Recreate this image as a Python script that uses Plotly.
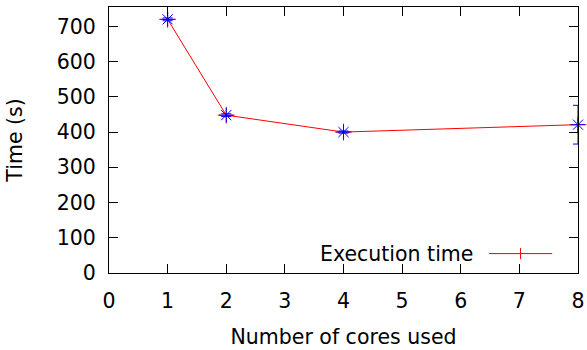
import plotly.graph_objects as go

cores = [1, 2, 4, 8]
times = [720, 448, 400, 421]
errors = [4, 4, 3, 55]
x_ticks = [0, 1, 2, 3, 4, 5, 6, 7, 8]
y_ticks = [0, 100, 200, 300, 400, 500, 600, 700]
series_name = "Execution time"

FONT = "DejaVu Sans"
FS = 20.5

fig = go.Figure()
# line with + markers (the legend series)
fig.add_trace(go.Scatter(
    x=cores, y=times, mode="lines+markers", name=series_name,
    line=dict(color="#ff0000", width=1),
    marker=dict(symbol="cross-thin-open", size=12, color="#ff0000", line=dict(color="#ff0000", width=1)),
    cliponaxis=False, showlegend=False,
))
# error bars with asterisk markers
fig.add_trace(go.Scatter(
    x=cores, y=times, mode="markers",
    marker=dict(symbol="asterisk-open", size=12, color="#0000ff", line=dict(color="#0000ff", width=1)),
    error_y=dict(type="data", array=errors, visible=True, color="#0000ff", thickness=1, width=5),
    cliponaxis=False, showlegend=False,
))

axis_common = dict(
    showline=True, mirror="allticks", linecolor="black", linewidth=1,
    ticks="inside", ticklen=9, tickwidth=1, tickcolor="black",
    showgrid=False, zeroline=False, automargin=False,
    tickfont=dict(family=FONT, size=FS, color="black"),
)
fig.update_xaxes(range=[0, 8], tickvals=x_ticks, ticktext=[str(v) for v in x_ticks],
                 title=dict(text="Number of cores used", font=dict(family=FONT, size=FS, color="black"), standoff=18),
                 ticklabelstandoff=9, **axis_common)
fig.update_yaxes(range=[0, 755], tickvals=y_ticks, ticktext=[str(v) for v in y_ticks],
                 title=dict(text="Time (s)", font=dict(family=FONT, size=FS, color="black"), standoff=28),
                 ticklabelstandoff=8, **axis_common)

# legend key drawn gnuplot-style (text left, sample right), in paper coordinates
ly = 0.073
fig.add_annotation(x=0.78, y=ly, xref="paper", yref="paper", text=series_name,
                   showarrow=False, xanchor="right", yanchor="middle",
                   font=dict(family=FONT, size=FS, color="black"))
fig.add_shape(type="line", xref="paper", yref="paper", x0=0.81, x1=0.945, y0=ly, y1=ly,
              line=dict(color="#ff0000", width=1))
fig.add_shape(type="line", xref="paper", yref="paper", x0=0.8775, x1=0.8775, y0=ly - 0.021, y1=ly + 0.021,
              line=dict(color="#ff0000", width=1))

fig.update_layout(
    width=587, height=350,
    margin=dict(l=109, r=9, t=7, b=77),
    paper_bgcolor="white", plot_bgcolor="white",
    font=dict(family=FONT, size=FS, color="black"),
    showlegend=False,
)

fig.write_html("out.html")
